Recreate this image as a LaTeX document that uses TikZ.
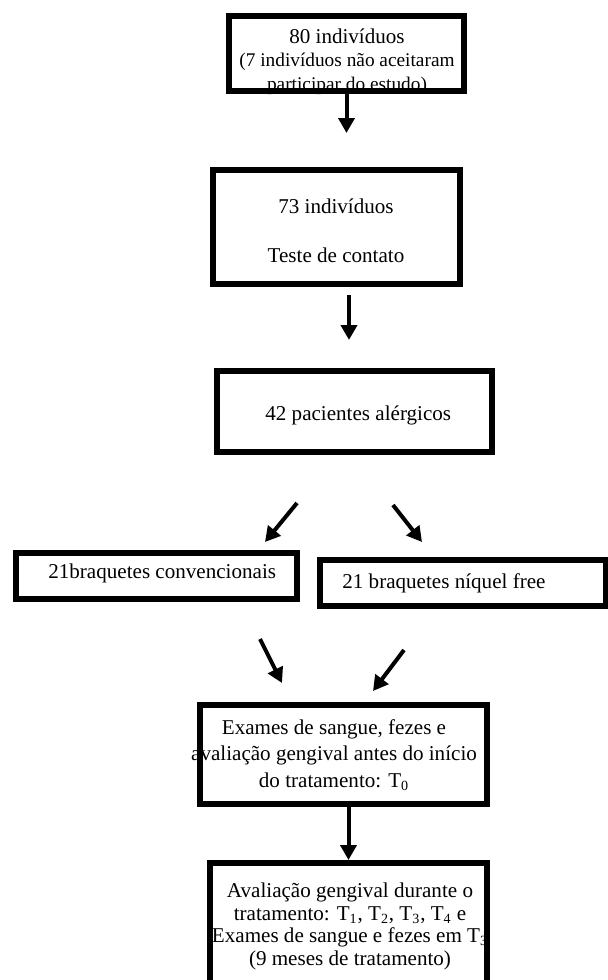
\documentclass[tikz,border=0pt]{standalone}
\usepackage{fontspec}
\setmainfont{Liberation Serif}
\usetikzlibrary{arrows.meta}

\tikzset{
	caixa/.style={draw, rectangle, line width=0.12cm, inner sep=0pt},
	texto/.style={inner sep=0pt, align=center, font=\fontsize{12}{14}\selectfont},
	seta/.style={line width=0.08cm, -{Triangle[width=0.32cm,length=0.3cm]}}
}

\begin{document}
\begin{tikzpicture}[x=0.02cm, y=-0.02cm]
		
		\useasboundingbox (0,0) rectangle (608,980);
		
		%Caixas do fluxograma
		\node (individuos) at (346.5,53.5) [caixa, minimum width=4.7cm, minimum height=1.5cm]{};
		
		\node (testeContato) at (336.5,227) [caixa, minimum width=4.94cm, minimum height=2.28cm]{};
		
		\node (pacientesAlergicos) at (354.5,411.5) [caixa, minimum width=5.5cm, minimum height=1.62cm]{};
		
		\node (braquetesConvencionais) at (156.5,576) [caixa, minimum width=5.62cm, minimum height=0.92cm]{};
		
		\node (braquetesNiquel) at (463,583) [caixa, minimum width=5.72cm, minimum height=0.92cm]{};
		
		\node (examesIniciais) at (343.5,754.5) [caixa, minimum width=5.74cm, minimum height=1.98cm]{};
		
		\node (avaliacaoTratamento) at (348.5,929) [caixa, minimum width=5.54cm, minimum height=2.64cm]{};
		
		%Textos das caixas
		\node (textoIndividuos) at (347,61.4) [texto, font=\fontsize{11}{13.4}\selectfont]{{\fontsize{12}{13.4}\selectfont 80 indivíduos}\\(7 indivíduos não aceitaram\\participar do estudo)};
		
		\node (textoTeste) at (336,230.8) [texto]{73 indivíduos\\[14.4pt]Teste de contato};
		
		\node (textoPacientes) at (265,420) [texto, anchor=base west]{42 pacientes alérgicos};
		
		\node (textoConvencionais) at (48,578) [texto, anchor=base west]{21braquetes convencionais};
		
		\node (textoNiquel) at (342,588) [texto, anchor=base west]{21 braquetes níquel free};
		
		\node (textoExames) at (334,755) [texto, font=\fontsize{12}{15.1}\selectfont]{Exames de sangue, fezes e\\avaliação gengival antes do início\\do tratamento: T\textsubscript{0}};
		
		\node (textoAvaliacao) at (350,926.4) [texto, font=\fontsize{12}{12.8}\selectfont]{Avaliação gengival durante o\\tratamento: T\textsubscript{1}, T\textsubscript{2}, T\textsubscript{3}, T\textsubscript{4} e\\Exames de sangue e fezes em T\textsubscript{3}\\(9 meses de tratamento)};
		
		%Coordenate das setas
		\coordinate (fimSetaIndividuos) at (346.5,133);
		\coordinate (inicioSetaTeste) at (349,295);
		\coordinate (fimSetaTeste) at (349,340);
		\coordinate (inicioSetaEsq) at (297,503);
		\coordinate (fimSetaEsq) at (265,542);
		\coordinate (inicioSetaDir) at (393,505);
		\coordinate (fimSetaDir) at (422,542);
		\coordinate (inicioSetaConv) at (260,639);
		\coordinate (fimSetaConv) at (282,683);
		\coordinate (inicioSetaNiquel) at (404,650);
		\coordinate (fimSetaNiquel) at (373,691);
		
		%Setas
		\draw[seta] (individuos.south) -- (fimSetaIndividuos);
		
		\draw[seta] (inicioSetaTeste) -- (fimSetaTeste);
		
		\draw[seta] (inicioSetaEsq) -- (fimSetaEsq);
		
		\draw[seta] (inicioSetaDir) -- (fimSetaDir);
		
		\draw[seta] (inicioSetaConv) -- (fimSetaConv);
		
		\draw[seta] (inicioSetaNiquel) -- (fimSetaNiquel);
		
		\draw[seta] (examesIniciais.south -| avaliacaoTratamento.north) -- (avaliacaoTratamento.north);
		
\end{tikzpicture}
\end{document}
